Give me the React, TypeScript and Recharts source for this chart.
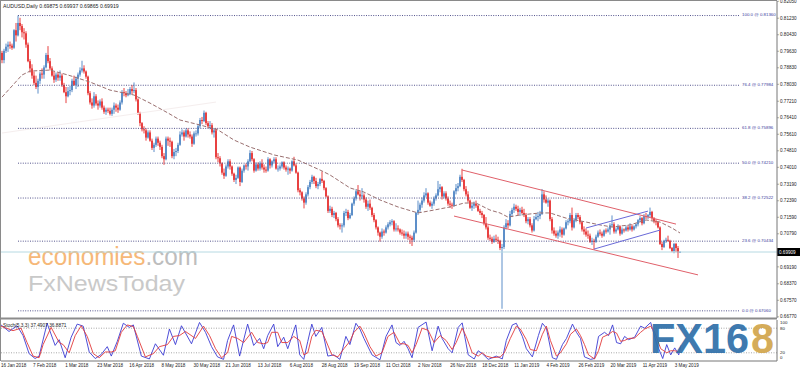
import React from 'react';
import { ComposedChart, Bar, Line, XAxis, YAxis, ReferenceLine } from 'recharts';

const FONT = '"Liberation Sans", Arial, sans-serif';
const BULL = '#4a82c3';
const BEAR = '#e52b2b';

// Daily AUDUSD candles [open, high, low, close] in 1e-4 units
const jan18 = [[7955,7965,7905,7920],[7920,7975,7905,7965],[7965,8000,7955,7985],[7985,8010,7960,7995],[7995,8010,7975,7990],[7990,8000,7970,7980],[7980,8070,7975,8065],[8065,8100,8010,8040],[8040,8136,8035,8100],[8100,8125,8065,8085],[8085,8095,8030,8055],[8055,8075,8020,8050]];
const feb18 = [[8050,8060,7980,7995],[7995,8005,7910,7915],[7915,7925,7860,7880],[7880,7900,7830,7845],[7845,7865,7800,7810],[7810,7845,7780,7790],[7790,7830,7758,7820],[7820,7865,7805,7855],[7855,7880,7830,7850],[7850,7895,7830,7885],[7885,7955,7880,7945],[7945,7988,7905,7915],[7915,7930,7870,7880],[7880,7890,7840,7845],[7845,7865,7810,7825],[7825,7860,7815,7850],[7850,7860,7820,7835],[7835,7870,7820,7845],[7845,7855,7790,7800],[7800,7810,7760,7765]];
const mar18 = [[7765,7790,7712,7745],[7745,7790,7740,7770],[7770,7795,7750,7775],[7775,7830,7765,7820],[7820,7845,7795,7800],[7800,7840,7780,7830],[7830,7860,7790,7850],[7850,7885,7840,7870],[7870,7917,7860,7880],[7880,7895,7855,7865],[7865,7870,7830,7840],[7840,7845,7750,7760],[7760,7770,7705,7715],[7715,7735,7685,7700],[7700,7765,7690,7745],[7745,7755,7700,7710],[7710,7725,7680,7700],[7700,7730,7690,7720],[7720,7735,7680,7690],[7690,7700,7660,7670],[7670,7690,7655,7680],[7680,7690,7665,7675]];
const apr18 = [[7675,7690,7652,7660],[7660,7690,7650,7680],[7680,7715,7660,7700],[7700,7710,7670,7690],[7690,7705,7665,7680],[7680,7725,7675,7715],[7715,7775,7705,7765],[7765,7785,7745,7760],[7760,7770,7740,7750],[7750,7780,7745,7755],[7755,7790,7750,7780],[7780,7800,7755,7770],[7770,7812,7760,7775],[7775,7785,7720,7730],[7730,7735,7655,7665],[7665,7670,7600,7615],[7615,7620,7575,7585],[7585,7600,7565,7580],[7580,7590,7530,7545],[7545,7580,7540,7570],[7570,7580,7525,7530]];
const may18 = [[7530,7540,7485,7495],[7495,7520,7475,7510],[7510,7550,7500,7540],[7540,7550,7505,7520],[7520,7530,7485,7500],[7500,7510,7445,7455],[7455,7470,7413,7440],[7440,7550,7435,7540],[7540,7550,7505,7530],[7530,7545,7500,7525],[7525,7530,7445,7455],[7455,7490,7440,7475],[7475,7495,7455,7480],[7480,7520,7470,7510],[7510,7575,7505,7560],[7560,7585,7550,7570],[7570,7580,7530,7550],[7550,7590,7545,7580],[7580,7590,7545,7560],[7560,7575,7540,7550],[7550,7560,7500,7515],[7515,7575,7510,7565],[7565,7580,7550,7565]];
const jun18 = [[7565,7610,7555,7600],[7600,7640,7590,7630],[7630,7645,7610,7625],[7625,7676,7620,7665],[7665,7670,7605,7615],[7615,7625,7590,7600],[7600,7625,7585,7605],[7605,7615,7560,7570],[7570,7590,7545,7580],[7580,7590,7440,7450],[7450,7470,7425,7445],[7445,7455,7405,7420],[7420,7425,7365,7375],[7375,7395,7345,7360],[7360,7415,7355,7405],[7405,7440,7395,7430],[7430,7440,7390,7405],[7405,7410,7360,7370],[7370,7375,7330,7340],[7340,7365,7320,7350],[7350,7405,7345,7400]];
const jul18 = [[7400,7405,7310,7330],[7330,7395,7325,7385],[7385,7415,7375,7410],[7410,7420,7390,7405],[7405,7440,7385,7430],[7430,7484,7425,7470],[7470,7480,7430,7440],[7440,7445,7375,7385],[7385,7425,7380,7415],[7415,7425,7385,7395],[7395,7430,7385,7420],[7420,7440,7390,7400],[7400,7415,7375,7390],[7390,7405,7375,7385],[7385,7450,7380,7440],[7440,7445,7395,7410],[7410,7435,7400,7430],[7430,7450,7420,7440],[7440,7450,7390,7395],[7395,7410,7380,7395],[7395,7415,7385,7405],[7405,7430,7395,7425]];
const aug18 = [[7425,7430,7390,7400],[7400,7410,7380,7390],[7390,7405,7365,7395],[7395,7400,7370,7385],[7385,7435,7380,7430],[7430,7452,7405,7410],[7410,7420,7370,7375],[7375,7380,7280,7290],[7290,7300,7265,7280],[7280,7285,7240,7250],[7250,7260,7202,7230],[7230,7280,7220,7270],[7270,7315,7260,7305],[7305,7340,7295,7330],[7330,7365,7320,7355],[7355,7360,7320,7335],[7335,7350,7300,7310],[7310,7330,7295,7320],[7320,7350,7310,7345],[7345,7381,7325,7335],[7335,7340,7290,7300],[7300,7305,7255,7260],[7260,7265,7180,7190]];
const sep18 = [[7190,7215,7180,7200],[7200,7210,7160,7170],[7170,7190,7155,7180],[7180,7185,7140,7150],[7150,7160,7110,7120],[7120,7130,7100,7115],[7115,7130,7085,7120],[7120,7190,7110,7180],[7180,7200,7165,7185],[7185,7195,7145,7155],[7155,7180,7150,7170],[7170,7230,7165,7225],[7225,7260,7215,7250],[7250,7295,7240,7285],[7285,7315,7265,7270],[7270,7290,7240,7260],[7260,7300,7245,7265],[7265,7275,7230,7245],[7245,7255,7200,7210],[7210,7240,7190,7225]];
const oct18 = [[7225,7245,7195,7205],[7205,7210,7160,7170],[7170,7180,7135,7145],[7145,7150,7100,7110],[7110,7115,7070,7085],[7085,7090,7041,7065],[7065,7105,7055,7090],[7090,7100,7070,7085],[7085,7120,7080,7110],[7110,7135,7100,7125],[7125,7145,7115,7135],[7135,7150,7120,7140],[7140,7145,7090,7100],[7100,7130,7090,7105],[7105,7120,7090,7100],[7100,7105,7075,7085],[7085,7100,7070,7080],[7080,7095,7055,7070],[7070,7090,7055,7080],[7080,7090,7050,7065],[7065,7075,7030,7060],[7060,7070,7020,7050],[7050,7095,7040,7085]];
const nov18 = [[7085,7185,7080,7180],[7180,7240,7170,7195],[7195,7230,7185,7220],[7220,7255,7205,7240],[7240,7280,7230,7265],[7265,7300,7255,7275],[7275,7280,7220,7230],[7230,7240,7210,7215],[7215,7235,7200,7225],[7225,7260,7215,7250],[7250,7275,7240,7265],[7265,7335,7260,7295],[7295,7320,7280,7305],[7305,7310,7245,7260],[7260,7285,7250,7275],[7275,7285,7240,7250],[7250,7260,7215,7225],[7225,7240,7205,7220],[7220,7230,7200,7215],[7215,7290,7210,7285],[7285,7320,7270,7300],[7300,7325,7285,7310]];
const dec18 = [[7310,7365,7305,7355],[7355,7394,7330,7340],[7340,7345,7285,7295],[7295,7310,7260,7270],[7270,7285,7230,7240],[7240,7245,7200,7205],[7205,7225,7190,7215],[7215,7235,7200,7225],[7225,7240,7205,7215],[7215,7220,7185,7190],[7190,7200,7170,7180],[7180,7190,7155,7170],[7170,7175,7120,7130],[7130,7160,7100,7110],[7110,7120,7050,7060],[7060,7075,7045,7055],[7055,7065,7030,7040],[7040,7070,7035,7055],[7055,7075,7040,7050],[7050,7065,7030,7045]];
const jan19 = [[7045,7050,7000,7010],[7010,7030,6716,7015],[7015,7120,7005,7110],[7110,7150,7100,7130],[7130,7145,7105,7120],[7120,7190,7115,7175],[7175,7205,7160,7195],[7195,7225,7180,7210],[7210,7220,7190,7200],[7200,7215,7170,7185],[7185,7205,7165,7195],[7195,7210,7175,7180],[7180,7200,7160,7170],[7170,7180,7130,7140],[7140,7160,7125,7150],[7150,7160,7110,7120],[7120,7130,7085,7095],[7095,7165,7090,7150],[7150,7175,7145,7160],[7160,7185,7140,7165],[7165,7190,7150,7175],[7175,7296,7170,7270]];
const feb19 = [[7270,7285,7230,7245],[7245,7265,7225,7230],[7230,7250,7210,7240],[7240,7245,7140,7150],[7150,7160,7080,7095],[7095,7110,7070,7080],[7080,7095,7060,7070],[7070,7095,7055,7085],[7085,7115,7065,7100],[7100,7110,7060,7075],[7075,7110,7070,7105],[7105,7145,7100,7135],[7135,7150,7120,7140],[7140,7180,7130,7170],[7170,7206,7095,7110],[7110,7155,7105,7145],[7145,7180,7135,7170],[7170,7180,7150,7160],[7160,7170,7125,7135],[7135,7140,7090,7100]];
const mar19 = [[7100,7115,7075,7090],[7090,7105,7065,7075],[7075,7095,7055,7070],[7070,7080,7035,7040],[7040,7060,7025,7045],[7045,7055,7003,7040],[7040,7075,7035,7065],[7065,7095,7060,7085],[7085,7100,7070,7080],[7080,7090,7060,7070],[7070,7100,7065,7095],[7095,7105,7080,7090],[7090,7110,7085,7100],[7100,7130,7075,7120],[7120,7168,7110,7125],[7125,7135,7080,7090],[7090,7110,7080,7100],[7100,7125,7095,7115],[7115,7120,7070,7080],[7080,7110,7075,7100],[7100,7105,7085,7095]];
const apr19 = [[7095,7120,7090,7110],[7110,7120,7090,7100],[7100,7130,7095,7115],[7115,7125,7090,7100],[7100,7120,7095,7115],[7115,7130,7105,7125],[7125,7150,7115,7145],[7145,7165,7135,7155],[7155,7160,7120,7130],[7130,7175,7125,7165],[7165,7180,7150,7160],[7160,7175,7150,7170],[7170,7206,7160,7185],[7185,7190,7145,7155],[7155,7160,7130,7140],[7140,7150,7120,7135],[7135,7140,7105,7110],[7110,7115,7025,7030],[7030,7040,7000,7015],[7015,7050,7010,7045],[7045,7060,7035,7050],[7050,7070,7040,7045]];
const may19 = [[7045,7050,7005,7010],[7010,7015,6990,6995],[6995,7035,6985,7030],[7030,7035,6990,7010],[7010,7020,6962,6988],[6987.5,6993.7,6986.5,6991.9]];

// Moving average (dashed), [bar, price*1e4]
const maPoints = [[0,7741],[10,7848],[14,7867],[24,7872],[33,7848],[44,7814],[54,7775],[66,7751],[74,7712],[83,7664],[89,7630],[99,7606],[108,7582],[116,7533],[124,7499],[136,7461],[148,7436],[159,7388],[164,7364],[174,7301],[181,7281],[189,7243],[198,7209],[208,7180],[216,7194],[224,7209],[231,7228],[237,7228],[244,7194],[249,7180],[253,7160],[259,7170],[269,7180],[274,7180],[282,7155],[292,7136],[299,7122],[305,7112],[314,7122],[322,7146],[329,7136],[335,7107],[339,7083]];

// Stochastic (5,3,3): [bar, value]
const stochMain = [[0,88],[4,72],[8,86],[11,62],[14,18],[17,6],[19,12],[23,92],[27,38],[29,52],[32,8],[35,58],[38,90],[41,85],[44,22],[47,6],[50,16],[53,35],[55,12],[58,48],[61,92],[64,82],[66,88],[70,12],[74,5],[77,42],[81,14],[84,78],[87,40],[90,86],[95,42],[99,94],[102,70],[105,35],[108,10],[111,4],[113,50],[116,88],[119,12],[123,90],[126,38],[129,55],[131,30],[133,62],[136,90],[138,35],[141,58],[143,30],[147,88],[149,15],[151,4],[153,48],[155,90],[157,60],[160,82],[163,12],[166,15],[169,4],[172,60],[174,40],[177,92],[179,78],[181,55],[185,15],[189,3],[192,60],[195,88],[197,45],[199,38],[201,48],[203,30],[205,8],[208,82],[212,95],[215,25],[218,85],[220,55],[223,30],[225,20],[228,82],[230,93],[233,15],[236,5],[238,25],[240,18],[243,4],[247,12],[250,5],[252,50],[255,88],[257,92],[260,60],[262,30],[265,10],[268,62],[270,92],[272,80],[275,8],[277,4],[280,40],[282,55],[285,90],[287,70],[289,55],[291,10],[294,4],[296,6],[298,60],[301,70],[303,62],[305,88],[307,45],[309,42],[311,60],[313,52],[316,58],[319,85],[321,80],[324,94],[327,42],[330,6],[332,40],[334,15],[336,32],[338,15],[339,37.49]];
const stochSignal = [[0,85],[6,74],[10,80],[13,45],[16,12],[19,8],[21,40],[25,82],[29,45],[31,40],[34,20],[37,62],[40,86],[43,60],[46,18],[49,8],[52,22],[55,22],[57,25],[60,70],[63,88],[66,84],[68,60],[72,10],[76,18],[79,35],[83,40],[86,60],[89,62],[92,72],[97,55],[101,85],[104,62],[107,30],[110,8],[113,20],[115,60],[118,55],[121,45],[125,70],[128,45],[131,42],[133,45],[135,70],[138,70],[140,45],[143,45],[146,60],[149,50],[151,15],[153,20],[155,60],[157,75],[160,72],[162,50],[165,15],[168,10],[171,30],[174,48],[176,70],[179,85],[181,68],[184,35],[187,12],[190,20],[193,60],[196,70],[199,42],[201,42],[203,38],[205,20],[207,40],[210,80],[213,75],[216,45],[219,62],[222,50],[225,28],[227,45],[230,80],[232,60],[235,20],[238,12],[240,20],[242,12],[245,8],[249,10],[251,20],[254,55],[257,85],[259,78],[262,52],[264,28],[267,25],[270,65],[272,85],[274,50],[277,12],[279,20],[282,42],[284,65],[287,78],[289,62],[291,40],[293,15],[296,5],[298,25],[300,58],[303,65],[305,72],[307,68],[309,48],[311,50],[313,55],[316,56],[319,70],[321,78],[324,85],[326,70],[329,30],[332,20],[334,25],[336,25],[338,22],[339,36.89]];

// Fibonacci retracement levels
const fibLevels = [[100.0,0.81360],[76.4,0.77984],[61.8,0.75896],[50.0,0.74210],[38.2,0.72522],[23.6,0.70434],[0.0,0.67060]];

// Trend channels: [[barA, priceA], [barB, priceB]]
const redChannel = [[[230,7388],[337,7126]],[[226,7165],[348,6880]]];
const blueChannel = [[[292,7107],[323,7189]],[[296,7005],[329,7097]]];
const faintLine = [[0,7567],[107,7717]];

const priceTicks = [0.82050,0.81230,0.80430,0.79630,0.78830,0.78030,0.77210,0.76410,0.75610,0.74810,0.74010,0.73190,0.72390,0.71590,0.70790,0.69190,0.68370,0.67570,0.66770];
const currentPrice = 0.69909;
const dateLabels = ['16 Jan 2018','7 Feb 2018','1 Mar 2018','23 Mar 2018','16 Apr 2018','8 May 2018','30 May 2018','21 Jun 2018','13 Jul 2018','6 Aug 2018','28 Aug 2018','19 Sep 2018','11 Oct 2018','2 Nov 2018','26 Nov 2018','18 Dec 2018','11 Jan 2019','4 Feb 2019','26 Feb 2019','20 Mar 2019','11 Apr 2019','3 May 2019'];
const dateTicks = [0,16,32,48,64,80,96,112,128,144,160,176,192,208,224,240,256,272,288,304,320,336];
const stochTicks = [0,20,80,100];

const SLOTS = 388;
const candles = [jan18,feb18,mar18,apr18,may18,jun18,jul18,aug18,sep18,oct18,nov18,dec18,jan19,feb19,mar19,apr19,may19].flat();

const mainRows: any[] = [];
const stochRows: any[] = [];
for (let i = 0; i < SLOTS; i++) {
  const c = candles[i];
  mainRows.push(c ? { idx: i, range: [c[2] / 1e4, c[1] / 1e4], o: c[0] / 1e4, h: c[1] / 1e4, l: c[2] / 1e4, c: c[3] / 1e4, ma: null } : { idx: i, range: null, ma: null });
  stochRows.push({ idx: i, k: null, d: null });
}
maPoints.forEach(([b, v]) => { mainRows[b].ma = v / 1e4; });
stochMain.forEach(([b, v]) => { stochRows[b].k = v; });
stochSignal.forEach(([b, v]) => { stochRows[b].d = v; });

const renderCandle = (props: any) => {
  const { x, y, width, height, payload } = props;
  if (!payload || payload.o == null || x == null || y == null) return <g />;
  const top = Math.min(y, y + height);
  const bot = Math.max(y, y + height);
  const span = payload.h - payload.l || 1e-9;
  const k = (bot - top) / span;
  const yO = top + (payload.h - payload.o) * k;
  const yC = top + (payload.h - payload.c) * k;
  const color = payload.c >= payload.o ? BULL : BEAR;
  const cx = x + width / 2;
  const bTop = Math.min(yO, yC);
  const bH = Math.max(0.8, Math.abs(yC - yO));
  return (
    <g>
      <line x1={cx} x2={cx} y1={top} y2={bot} stroke={color} strokeWidth={0.9} />
      <rect x={cx - 0.8} y={bTop} width={1.6} height={bH} fill={color} />
    </g>
  );
};

const PriceTick = (props: any) => {
  const { x, y, payload } = props;
  return (
    <g>
      <line x1={x - 2} x2={x} y1={y} y2={y} stroke="#777" strokeWidth={0.6} />
      <text x={x + 1} y={y} dy="0.36em" fontSize={4.6} fill="#222" fontFamily={FONT}>{Number(payload.value).toFixed(5)}</text>
    </g>
  );
};

const StochTick = (props: any) => {
  const { x, y, payload } = props;
  const v = Number(payload.value);
  const shift = v === 0 ? -3.5 : v === 100 ? 2 : 0;
  return (
    <text x={x + 1} y={y + shift} dy="0.36em" fontSize={4.4} fill="#222" fontFamily={FONT}>{String(payload.value)}</text>
  );
};

const DateTick = (props: any) => {
  const { x, y, payload, index } = props;
  return (
    <text x={x} y={y + 4} fontSize={4.6} fill="#222" fontFamily={FONT}>{dateLabels[index] ?? String(payload.value)}</text>
  );
};

const FibLabel = (props: any) => {
  const { viewBox, text } = props;
  if (!viewBox) return null;
  return (
    <text x={viewBox.x + viewBox.width + 2} y={viewBox.y + 0.8} fontSize={4.4} fill="#3a3a9c" fontFamily={FONT}>{text}</text>
  );
};

const PriceBox = (props: any) => {
  const { viewBox } = props;
  if (!viewBox) return null;
  const right = viewBox.x + viewBox.width;
  return (
    <g>
      <rect x={right} y={viewBox.y - 4} width={23} height={8} fill="#000" />
      <text x={right + 2} y={viewBox.y} dy="0.36em" fontSize={4.6} fill="#fff" fontFamily={FONT}>{currentPrice.toFixed(5)}</text>
    </g>
  );
};

export default function App() {
  return (
    <div style={{ position: 'absolute', left: 0, top: 0, width: 800, height: 372, background: '#fff', overflow: 'hidden' }}>
      {/* background watermarks */}
      <svg width={800} height={372} style={{ position: 'absolute', left: 0, top: 0 }}>
        <text x={28} y={265} fontSize={25} fontFamily={FONT} textLength={170} lengthAdjust="spacingAndGlyphs">
          <tspan fill="#f6b878">economies</tspan><tspan fill="#bdbdbd">.com</tspan>
        </text>
        <text x={28} y={290.5} fontSize={22} fontFamily={FONT} fill="#c9c9c9" textLength={157} lengthAdjust="spacingAndGlyphs">FxNewsToday</text>
      </svg>
      <div style={{ position: 'absolute', left: 0, top: 0 }}>
        <ComposedChart width={800} height={319} data={mainRows} margin={{ top: 1, right: 0, left: 1, bottom: 1 }} barCategoryGap={0}>
          <XAxis dataKey="idx" hide />
          <YAxis orientation="right" width={23} domain={[0.66713, 0.82064]} allowDataOverflow ticks={priceTicks} interval={0} tick={<PriceTick />} tickLine={false} tickSize={0} tickMargin={2} axisLine={{ stroke: '#777' }} />
          <ReferenceLine segment={[{ x: faintLine[0][0], y: faintLine[0][1] / 1e4 }, { x: faintLine[1][0], y: faintLine[1][1] / 1e4 }]} stroke="#f5eeee" strokeWidth={1} />
          {fibLevels.map(([lvl, price]) => (
            <ReferenceLine key={lvl} segment={[{ x: 8, y: price }, { x: 369, y: price }]} stroke="#55558e" strokeWidth={1} strokeDasharray="1 1.4" label={<FibLabel text={`${lvl.toFixed(1)} @ ${price.toFixed(5)}`} />} />
          ))}
          <ReferenceLine y={currentPrice} stroke="#b6d9e2" strokeWidth={1} label={<PriceBox />} />
          <Line dataKey="ma" stroke="#9a7070" strokeWidth={1} strokeDasharray="4 2" dot={false} connectNulls isAnimationActive={false} />
          <Bar dataKey="range" shape={renderCandle} isAnimationActive={false} />
          {redChannel.map((seg, i) => (
            <ReferenceLine key={'r' + i} segment={[{ x: seg[0][0], y: seg[0][1] / 1e4 }, { x: seg[1][0], y: seg[1][1] / 1e4 }]} stroke="#e0606a" strokeWidth={1} />
          ))}
          {blueChannel.map((seg, i) => (
            <ReferenceLine key={'b' + i} segment={[{ x: seg[0][0], y: seg[0][1] / 1e4 }, { x: seg[1][0], y: seg[1][1] / 1e4 }]} stroke="#6a6ad8" strokeWidth={1} />
          ))}
        </ComposedChart>
      </div>
      <div style={{ position: 'absolute', left: 0, top: 319 }}>
        <ComposedChart width={800} height={53} data={stochRows} margin={{ top: 1, right: 0, left: 1, bottom: 0 }}>
          <XAxis dataKey="idx" height={11} ticks={dateTicks} interval={0} tick={<DateTick />} tickLine={false} tickSize={0} axisLine={{ stroke: '#777' }} />
          <YAxis orientation="right" width={23} domain={[0, 100]} ticks={stochTicks} interval={0} tick={<StochTick />} tickLine={false} tickSize={0} tickMargin={2} axisLine={{ stroke: '#777' }} />
          <ReferenceLine y={80} stroke="#a8a8a8" strokeDasharray="1 1.5" />
          <ReferenceLine y={20} stroke="#a8a8a8" strokeDasharray="1 1.5" />
          <Line dataKey="k" stroke="#3b3bd4" strokeWidth={0.9} dot={false} connectNulls isAnimationActive={false} />
          <Line dataKey="d" stroke="#e23a3a" strokeWidth={0.9} dot={false} connectNulls isAnimationActive={false} />
        </ComposedChart>
      </div>
      {/* frame and overlay texts */}
      <svg width={800} height={372} style={{ position: 'absolute', left: 0, top: 0, pointerEvents: 'none' }}>
        <line x1={0} x2={777} y1={0.5} y2={0.5} stroke="#8a8a8a" />
        <line x1={0.5} x2={0.5} y1={0} y2={361} stroke="#8a8a8a" />
        <rect x={0} y={317.5} width={777} height={2} fill="#8c8c8c" />
        <text x={3} y={8} fontSize={5.2} fill="#1a1a1a" fontFamily={FONT}>AUDUSD,Daily  0.69875 0.69937 0.69865 0.69919</text>
        <text x={3} y={327} fontSize={4.8} fill="#1a1a1a" fontFamily={FONT}>Stoch(5,3,3) 37.4907 36.8871</text>
        <g transform="translate(650,352.5) scale(1,1.08)" opacity={0.92}>
          <text x={0} y={0} fontSize={40} fontWeight="bold" fontFamily={FONT} fill="#2f6fa9" textLength={99} lengthAdjust="spacingAndGlyphs">FX16</text>
          <text x={101} y={0} fontSize={40} fontWeight="bold" fontFamily={FONT} fill="#d2a64c" textLength={23} lengthAdjust="spacingAndGlyphs">8</text>
        </g>
      </svg>
    </div>
  );
}
